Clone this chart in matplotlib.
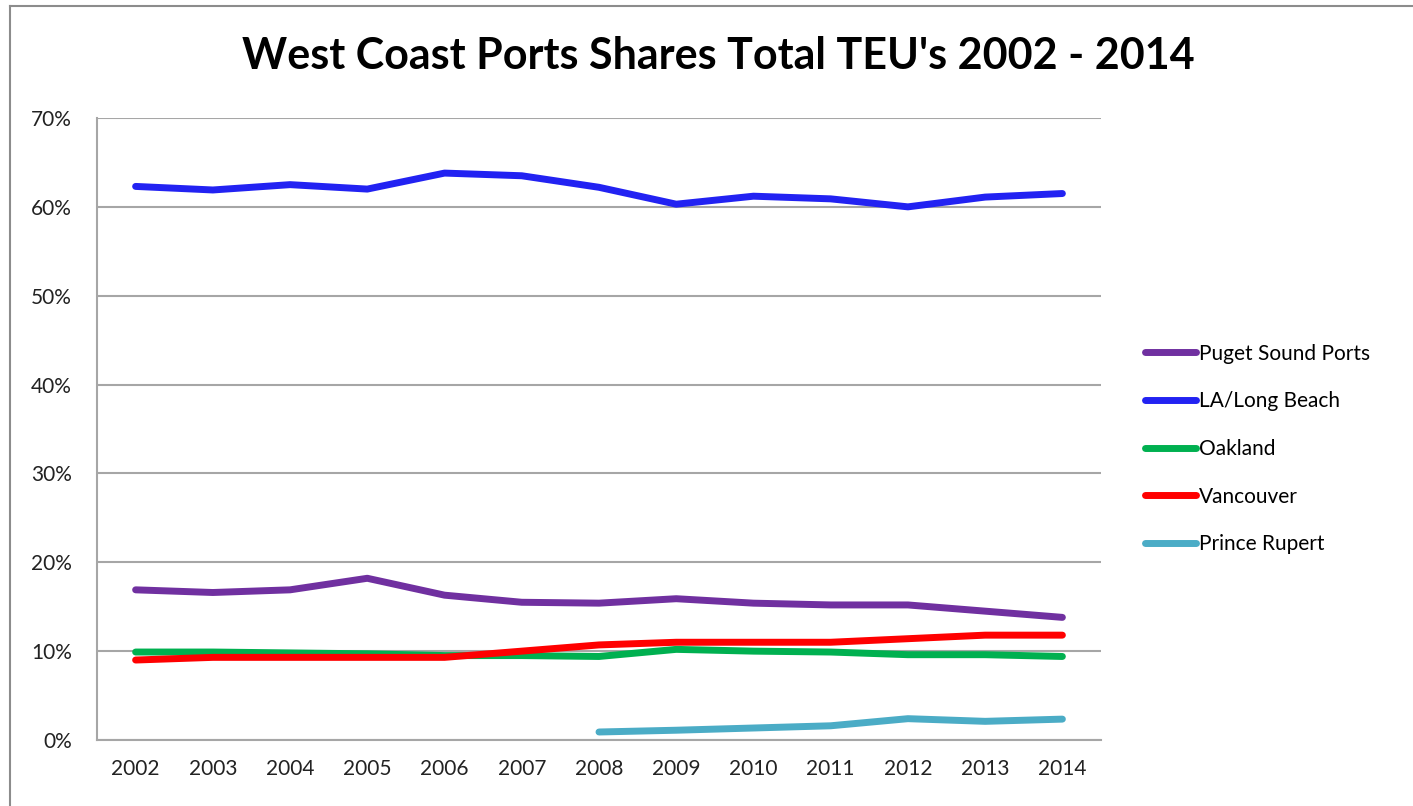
import numpy as np
import matplotlib.pyplot as plt
from matplotlib.lines import Line2D
from matplotlib.ticker import FuncFormatter

years = ['2002', '2003', '2004', '2005', '2006', '2007', '2008',
         '2009', '2010', '2011', '2012', '2013', '2014']

# shares of total TEU, in percent
puget_sound = [16.9, 16.6, 16.9, 18.2, 16.3, 15.5, 15.4, 15.9, 15.4, 15.2, 15.2, 14.5, 13.8]
la_long_beach = [62.3, 61.9, 62.5, 62.0, 63.8, 63.5, 62.2, 60.3, 61.2, 60.9, 60.0, 61.1, 61.5]
oakland = [9.9, 9.9, 9.8, 9.7, 9.5, 9.5, 9.4, 10.2, 10.0, 9.9, 9.6, 9.6, 9.4]
vancouver = [9.0, 9.3, 9.3, 9.3, 9.3, 10.0, 10.7, 11.0, 11.0, 11.0, 11.4, 11.8, 11.8]
prince_rupert = [np.nan] * 6 + [0.9, 1.1, 1.35, 1.6, 2.4, 2.1, 2.35]

series = [
    ('Puget Sound Ports', puget_sound, '#7030A0'),
    ('LA/Long Beach', la_long_beach, '#2222F2'),
    ('Oakland', oakland, '#00B050'),
    ('Vancouver', vancouver, '#FF0000'),
    ('Prince Rupert', prince_rupert, '#4BACC6'),
]

plt.rcParams['font.family'] = ['Lato', 'DejaVu Sans']

W, H = 1413, 806
fig = plt.figure(figsize=(W / 100, H / 100), dpi=100)
ax = fig.add_axes([97 / W, 1 - 740 / H, (1101 - 97) / W, (740 - 118) / H])

x = np.arange(len(years))
for name, vals, col in series:
    ax.plot(x, vals, color=col, lw=5, solid_capstyle='round',
            solid_joinstyle='round', label=name)

ax.set_xlim(-0.5, len(years) - 0.5)
ax.set_ylim(0, 70)
ax.set_yticks(np.arange(0, 71, 10))
ax.yaxis.set_major_formatter(FuncFormatter(lambda v, p: f'{v:.0f}%'))
ax.set_xticks(x)
ax.set_xticklabels(years)
ax.tick_params(axis='both', length=0, labelsize=15, colors='#222222')
ax.tick_params(axis='y', pad=18)
ax.tick_params(axis='x', pad=14)

ax.grid(axis='y', color='#A6A6A6', lw=1.5)
ax.set_axisbelow(True)
for s in ['top', 'right']:
    ax.spines[s].set_visible(False)
for s in ['left', 'bottom']:
    ax.spines[s].set_color('#A6A6A6')
    ax.spines[s].set_linewidth(1.5)

leg = ax.legend(loc='center left', bbox_to_anchor=(1126 / W, 1 - 449 / H),
                bbox_transform=fig.transFigure, frameon=False, fontsize=15,
                handlelength=2.45, handletextpad=0.15, labelspacing=1.33)

fig.text(718 / W, 1 - 56 / H, "West Coast Ports Shares Total TEU's 2002 - 2014",
         ha='center', va='center', fontsize=31, fontweight='bold')

# chart border (top and left)
fig.add_artist(Line2D([10 / W, 10 / W], [0, 1 - 6 / H], transform=fig.transFigure,
                      color='#8C8C8C', lw=1.5))
fig.add_artist(Line2D([10 / W, 1], [1 - 6 / H, 1 - 6 / H], transform=fig.transFigure,
                      color='#8C8C8C', lw=1.5))

fig.savefig('out.png', dpi=100)
